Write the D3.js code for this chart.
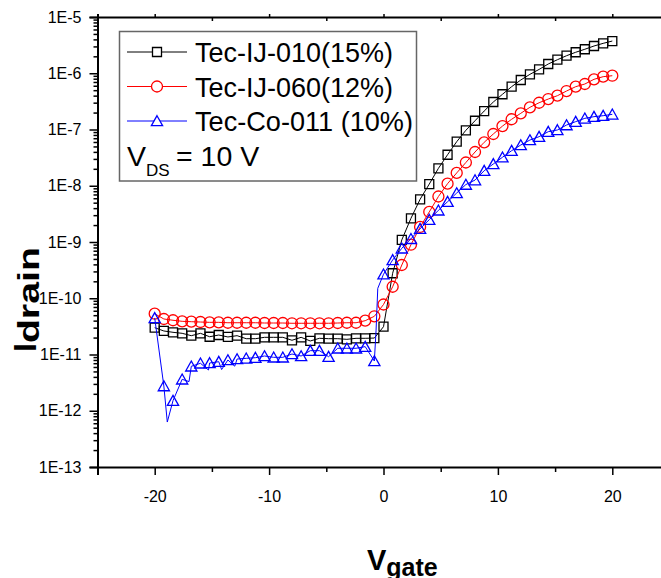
<!DOCTYPE html>
<html>
<head>
<meta charset="utf-8">
<script src="https://cdn.jsdelivr.net/npm/d3@7"></script>
<style>
  body { margin: 0; background: #fff; }
  text { font-family: "Liberation Sans", Arial, sans-serif; }
</style>
</head>
<body>
<div id="chart"></div>
<script>
// gate voltage steps (V)
const vgate = [-20, -19.2, -18.4, -17.6, -16.8, -16, -15.2, -14.4, -13.6, -12.8, -12, -11.2, -10.4, -9.6, -8.8, -8,
  -7.2, -6.4, -5.6, -4.8, -4, -3.2, -2.4, -1.6, -0.8, 0, 0.8, 1.6, 2.4, 3.2, 4, 4.8, 5.6, 6.4, 7.2, 8,
  8.8, 9.6, 10.4, 11.2, 12, 12.8, 13.6, 14.4, 15.2, 16, 16.8, 17.6, 18.4, 19.2, 20];

// Tec-IJ-010 (15%)
const ij010 = [3.0e-11, 2.62e-11, 2.48e-11, 2.38e-11, 2.16e-11, 2.38e-11, 2.07e-11, 2.22e-11, 2.05e-11, 2.16e-11,
  1.91e-11, 1.91e-11, 2.02e-11, 2.02e-11, 2.02e-11, 1.79e-11, 2.02e-11, 1.74e-11, 1.94e-11, 1.91e-11, 1.91e-11,
  1.86e-11, 1.94e-11, 1.94e-11, 1.96e-11, 3.12e-11, 2.78e-10, 1.09e-9, 2.64e-9, 5.74e-9, 1.07e-8, 2.04e-8, 3.56e-8,
  6.07e-8, 9.68e-8, 1.43e-7, 2.13e-7, 3.08e-7, 4.23e-7, 5.77e-7, 7.59e-7, 9.57e-7, 1.17e-6, 1.46e-6, 1.74e-6,
  2.05e-6, 2.36e-6, 2.67e-6, 3.05e-6, 3.40e-6, 3.74e-6];

// Tec-IJ-060 (12%)
const ij060 = [5.31e-11, 4.28e-11, 4.06e-11, 3.89e-11, 3.83e-11, 3.78e-11, 3.73e-11, 3.73e-11, 3.67e-11, 3.67e-11,
  3.67e-11, 3.67e-11, 3.63e-11, 3.63e-11, 3.63e-11, 3.59e-11, 3.59e-11, 3.59e-11, 3.59e-11, 3.59e-11, 3.63e-11,
  3.67e-11, 3.67e-11, 3.99e-11, 4.78e-11, 7.74e-11, 1.60e-10, 3.90e-10, 8.95e-10, 1.85e-9, 3.42e-9, 6.44e-9, 1.09e-8,
  1.69e-8, 2.59e-8, 3.98e-8, 5.92e-8, 8.32e-8, 1.15e-7, 1.52e-7, 1.94e-7, 2.48e-7, 2.99e-7, 3.48e-7, 3.99e-7,
  4.83e-7, 5.77e-7, 6.44e-7, 7.80e-7, 8.69e-7, 9.04e-7];

// Tec-Co-011 (10%)
const co011 = [4.46e-11, 2.75e-12, 1.51e-12, 3.62e-12, 6.17e-12, 6.98e-12, 7.06e-12, 7.45e-12, 7.98e-12, 8.31e-12,
  8.55e-12, 8.77e-12, 9.40e-12, 8.91e-12, 8.91e-12, 1.02e-11, 9.40e-12, 1.17e-11, 1.17e-11, 9.14e-12, 1.29e-11,
  1.29e-11, 1.29e-11, 1.38e-11, 7.66e-12, 2.67e-10, 4.79e-10, 7.73e-10, 1.14e-9, 1.72e-9, 2.49e-9, 3.66e-9, 5.20e-9,
  7.43e-9, 1.05e-8, 1.26e-8, 1.85e-8, 2.44e-8, 3.21e-8, 4.20e-8, 5.30e-8, 6.50e-8, 7.45e-8, 9.14e-8, 9.80e-8,
  1.20e-7, 1.38e-7, 1.58e-7, 1.69e-7, 1.76e-7, 1.86e-7];

// extra line-only readings of Tec-Co-011 (no symbol drawn)
const co011ExtraV = [-18.9, -17.0, -15.3, -14.15, -13.0, -0.65, -0.5];
const co011ExtraI = [6.3e-13, 3.3e-12, 5.3e-12, 5.4e-12, 6.2e-12, 2.7e-11, 1.5e-10];

const seriesNames = ["Tec-IJ-010(15%)", "Tec-IJ-060(12%)", "Tec-Co-011 (10%)"];
const seriesColors = ["#000000", "#ff0000", "#0000ff"];
const seriesShapes = ["square", "circle", "triangle"];

const xTicks = [-20, -10, 0, 10, 20];
const xMinorTicks = [-25, -15, -5, 5, 15, 25];
const yTicks = [1e-13, 1e-12, 1e-11, 1e-10, 1e-9, 1e-8, 1e-7, 1e-6, 1e-5];
const yTickLabels = ["1E-13", "1E-12", "1E-11", "1E-10", "1E-9", "1E-8", "1E-7", "1E-6", "1E-5"];

const width = 661, height = 578;

const svg = d3.select("#chart").append("svg")
  .attr("width", width)
  .attr("height", height);

const x = d3.scaleLinear().domain([-25, 25]).range([97.5, 669.5]);
const y = d3.scaleLog().domain([1e-13, 1e-5]).range([467, 17]);

// minor log ticks 2..9 for each decade
let yMinor = [];
for (let d = -13; d < -5; d++) {
  for (let m = 2; m <= 9; m++) yMinor.push(m * Math.pow(10, d));
}

// left axis
const leftMinor = svg.append("g").attr("transform", "translate(" + x(-25) + ",0)")
  .call(d3.axisLeft(y).tickValues(yMinor).tickSize(4).tickFormat(""));
leftMinor.select(".domain").remove();
const leftMajor = svg.append("g").attr("transform", "translate(" + x(-25) + ",0)")
  .call(d3.axisLeft(y).tickValues(yTicks).tickSize(8).tickPadding(8)
    .tickFormat((d, i) => yTickLabels[i]));
leftMajor.selectAll("text").style("font-size", "16px").attr("fill", "#000");

// bottom axis
const bottomMinor = svg.append("g").attr("transform", "translate(0," + y(1e-13) + ")")
  .call(d3.axisBottom(x).tickValues(xMinorTicks).tickSize(5).tickFormat(""));
bottomMinor.select(".domain").remove();
const bottomMajor = svg.append("g").attr("transform", "translate(0," + y(1e-13) + ")")
  .call(d3.axisBottom(x).tickValues(xTicks).tickSize(8).tickPadding(16).tickFormat(d => String(d)));
bottomMajor.selectAll("text").style("font-size", "16px").attr("fill", "#000");

// top axis (mirror)
const topAxis = svg.append("g").attr("transform", "translate(0," + y(1e-5) + ")")
  .call(d3.axisTop(x).tickValues(xTicks).tickSize(3).tickFormat(""));
svg.append("g").attr("transform", "translate(0," + y(1e-5) + ")")
  .call(d3.axisBottom(x).tickValues(xMinorTicks).tickSize(4).tickFormat(""))
  .select(".domain").remove();

svg.selectAll(".domain").attr("stroke-width", 2);
svg.selectAll(".tick line").attr("stroke-width", 1.5);

// series
const lineGen = d3.line().x(d => x(d[0])).y(d => y(d[1]));

function symbolPath(shape) {
  if (shape == "square") return "M-4.5,-4.5H4.5V4.5H-4.5Z";
  if (shape == "circle") return d3.symbol(d3.symbolCircle, Math.PI * 5.5 * 5.5)();
  return "M0,-5.3L5.6,4.7H-5.6Z";
}

const allSeries = [ij010, ij060, co011];
const plot = svg.append("g");

allSeries.forEach((vals, s) => {
  let pts = vgate.map((v, i) => [v, vals[i]]);
  let linePts = pts.slice();
  if (s == 2) {
    co011ExtraV.forEach((v, i) => linePts.push([v, co011ExtraI[i]]));
    linePts.sort((a, b) => a[0] - b[0]);
  }
  plot.append("path")
    .attr("d", lineGen(linePts))
    .attr("fill", "none")
    .attr("stroke", seriesColors[s])
    .attr("stroke-width", 1);
  plot.selectAll(".m" + s)
    .data(pts)
    .enter()
    .append("path")
      .attr("class", "m" + s)
      .attr("transform", d => "translate(" + x(d[0]) + "," + y(d[1]) + ")")
      .attr("d", symbolPath(seriesShapes[s]))
      .attr("fill", "none")
      .attr("stroke", seriesColors[s])
      .attr("stroke-width", 1.3);
});

// legend
const legend = svg.append("g");
legend.append("rect")
  .attr("x", 119.5).attr("y", 31.5)
  .attr("width", 297).attr("height", 149.5)
  .attr("fill", "#fff")
  .attr("stroke", "#666")
  .attr("stroke-width", 1.5);

const rowY = [52, 86.5, 121];
const nameWidths = [198, 198, 218];
seriesNames.forEach((name, i) => {
  legend.append("line")
    .attr("x1", 127).attr("x2", 187)
    .attr("y1", rowY[i]).attr("y2", rowY[i])
    .attr("stroke", seriesColors[i]).attr("stroke-width", 1);
  legend.append("path")
    .attr("transform", "translate(157," + rowY[i] + ")")
    .attr("d", symbolPath(seriesShapes[i]))
    .attr("fill", "#fff")
    .attr("stroke", seriesColors[i])
    .attr("stroke-width", 1.3);
  legend.append("text")
    .attr("x", 195).attr("y", rowY[i] + 10)
    .attr("textLength", nameWidths[i])
    .attr("lengthAdjust", "spacingAndGlyphs")
    .style("font-size", "28.5px")
    .text(name);
});
const vds = legend.append("text").attr("x", 127).attr("y", 166).style("font-size", "28.5px");
vds.append("tspan").text("V");
vds.append("tspan").attr("dy", 10).style("font-size", "17px").text("DS");
vds.append("tspan").attr("x", 176).attr("dy", -10).text("= 10 V");

// axis titles
const ytitle = svg.append("text")
  .attr("transform", "translate(36,352)rotate(-90)")
  .style("font-weight", "bold");
ytitle.append("tspan").style("font-size", "32px").text("I");
ytitle.append("tspan").attr("dy", 3).style("font-size", "30px")
  .attr("textLength", 96).attr("lengthAdjust", "spacingAndGlyphs").text("drain");

const xtitle = svg.append("text")
  .attr("x", 367).attr("y", 570)
  .style("font-weight", "bold");
xtitle.append("tspan").style("font-size", "29px").text("V");
xtitle.append("tspan").attr("dy", 6).style("font-size", "25px").text("gate");
</script>
</body>
</html>
